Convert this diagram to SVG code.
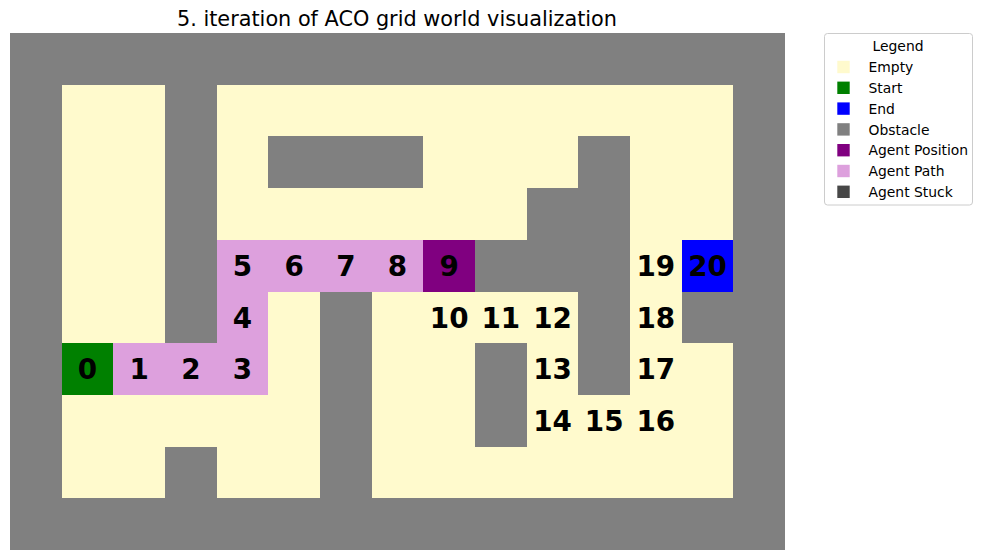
<svg xmlns="http://www.w3.org/2000/svg" width="983" height="560" viewBox="0 0 983 560">
<style>
.bg{fill:#ffffff}
.obs{fill:#808080}
.emp{fill:#FFFACD}
.path{fill:#DDA0DD}
.start{fill:#008000}
.end{fill:#0000FF}
.agent{fill:#800080}
.stuck{fill:#474747}
.grid rect{shape-rendering:crispEdges}
.lbl{font-family:"DejaVu Sans",sans-serif;font-weight:bold;font-size:27.8px;fill:#000;text-anchor:middle}
.title{font-family:"DejaVu Sans",sans-serif;font-size:20.8px;fill:#000;text-anchor:middle}
.lt{font-family:"DejaVu Sans",sans-serif;font-size:13.9px;fill:#000}
</style>
<rect class="bg" x="0" y="0" width="983" height="560"/>
<text class="title" x="397" y="26">5. iteration of ACO grid world visualization</text>
<g id="grid" class="grid">
<rect class="obs" x="10" y="33" width="775" height="517"/>
<!-- row 1 -->
<rect class="emp" x="61.67" y="84.7" width="103.33" height="51.7"/>
<rect class="emp" x="216.67" y="84.7" width="516.67" height="51.7"/>
<!-- row 2 -->
<rect class="emp" x="61.67" y="136.4" width="103.33" height="51.7"/>
<rect class="emp" x="216.67" y="136.4" width="51.67" height="51.7"/>
<rect class="emp" x="423.33" y="136.4" width="155" height="51.7"/>
<rect class="emp" x="630" y="136.4" width="103.33" height="51.7"/>
<!-- row 3 -->
<rect class="emp" x="61.67" y="188.1" width="103.33" height="51.7"/>
<rect class="emp" x="216.67" y="188.1" width="310" height="51.7"/>
<rect class="emp" x="630" y="188.1" width="103.33" height="51.7"/>
<!-- row 4 -->
<rect class="emp" x="61.67" y="239.8" width="103.33" height="51.7"/>
<rect class="emp" x="630" y="239.8" width="51.67" height="51.7"/>
<!-- row 5 -->
<rect class="emp" x="61.67" y="291.5" width="103.33" height="51.7"/>
<rect class="emp" x="268.33" y="291.5" width="51.67" height="51.7"/>
<rect class="emp" x="371.67" y="291.5" width="206.67" height="51.7"/>
<rect class="emp" x="630" y="291.5" width="51.67" height="51.7"/>
<!-- row 6 -->
<rect class="emp" x="268.33" y="343.2" width="51.67" height="51.7"/>
<rect class="emp" x="371.67" y="343.2" width="103.33" height="51.7"/>
<rect class="emp" x="526.67" y="343.2" width="51.67" height="51.7"/>
<rect class="emp" x="630" y="343.2" width="51.67" height="51.7"/>
<rect class="emp" x="681.67" y="343.2" width="51.67" height="51.7"/>
<!-- row 7 -->
<rect class="emp" x="61.67" y="394.9" width="258.33" height="51.7"/>
<rect class="emp" x="371.67" y="394.9" width="103.33" height="51.7"/>
<rect class="emp" x="526.67" y="394.9" width="206.67" height="51.7"/>
<!-- row 8 -->
<rect class="emp" x="61.67" y="446.6" width="103.33" height="51.7"/>
<rect class="emp" x="216.67" y="446.6" width="103.33" height="51.7"/>
<rect class="emp" x="371.67" y="446.6" width="361.67" height="51.7"/>
<!-- special cells -->
<rect class="start" x="61.67" y="343.2" width="51.67" height="51.7"/>
<rect class="path" x="113.33" y="343.2" width="155" height="51.7"/>
<rect class="path" x="216.67" y="291.5" width="51.67" height="51.7"/>
<rect class="path" x="216.67" y="239.8" width="206.67" height="51.7"/>
<rect class="agent" x="423.33" y="239.8" width="51.67" height="51.7"/>
<rect class="end" x="681.67" y="239.8" width="51.67" height="51.7"/>
</g>
<g id="labels">
<g id="n0"><text class="lbl" x="87.5" y="379.2">0</text></g>
<g id="n1"><text class="lbl" x="139.17" y="379.2">1</text></g>
<g id="n2"><text class="lbl" x="190.83" y="379.2">2</text></g>
<g id="n3"><text class="lbl" x="242.5" y="379.2">3</text></g>
<g id="n4"><text class="lbl" x="242.5" y="327.5">4</text></g>
<g id="n5"><text class="lbl" x="242.5" y="275.8">5</text></g>
<g id="n6"><text class="lbl" x="294.17" y="275.8">6</text></g>
<g id="n7"><text class="lbl" x="345.83" y="275.8">7</text></g>
<g id="n8"><text class="lbl" x="397.5" y="275.8">8</text></g>
<g id="n9"><text class="lbl" x="449.17" y="275.8">9</text></g>
<g id="n10"><text class="lbl" x="449.17" y="327.5">10</text></g>
<g id="n11"><text class="lbl" x="500.83" y="327.5">11</text></g>
<g id="n12"><text class="lbl" x="552.5" y="327.5">12</text></g>
<g id="n13"><text class="lbl" x="552.5" y="379.2">13</text></g>
<g id="n14"><text class="lbl" x="552.5" y="430.9">14</text></g>
<g id="n15"><text class="lbl" x="604.17" y="430.9">15</text></g>
<g id="n16"><text class="lbl" x="655.83" y="430.9">16</text></g>
<g id="n17"><text class="lbl" x="655.83" y="379.2">17</text></g>
<g id="n18"><text class="lbl" x="655.83" y="327.5">18</text></g>
<g id="n19"><text class="lbl" x="655.83" y="275.8">19</text></g>
<g id="n20"><text class="lbl" x="707.5" y="275.8">20</text></g>
</g>
<g id="connectors"></g>
<g id="legend">
<rect x="824.5" y="33.5" width="148" height="171.5" rx="3" fill="#ffffff" fill-opacity="0.8" stroke="#cccccc" stroke-width="1"/>
<text class="lt" x="898" y="51.3" text-anchor="middle">Legend</text>
<rect class="emp" x="837.3" y="60.8" width="12.4" height="12.4"/>
<text class="lt" x="868.5" y="72.2">Empty</text>
<rect class="start" x="837.3" y="81.6" width="12.4" height="12.4"/>
<text class="lt" x="868.5" y="93">Start</text>
<rect class="end" x="837.3" y="102.4" width="12.4" height="12.4"/>
<text class="lt" x="868.5" y="113.8">End</text>
<rect class="obs" x="837.3" y="123.2" width="12.4" height="12.4"/>
<text class="lt" x="868.5" y="134.6">Obstacle</text>
<rect class="agent" x="837.3" y="144" width="12.4" height="12.4"/>
<text class="lt" x="868.5" y="155.4">Agent Position</text>
<rect class="path" x="837.3" y="164.8" width="12.4" height="12.4"/>
<text class="lt" x="868.5" y="176.2">Agent Path</text>
<rect class="stuck" x="837.3" y="185.6" width="12.4" height="12.4"/>
<text class="lt" x="868.5" y="197">Agent Stuck</text>
</g>
</svg>
